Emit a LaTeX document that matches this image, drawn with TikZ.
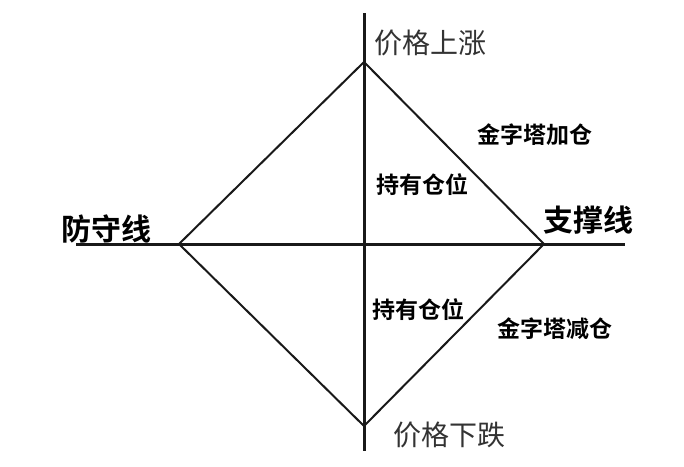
\documentclass[tikz,border=0pt]{standalone}
\usepackage{fontspec}
\newfontfamily\cjk[BoldFont={Noto Sans CJK SC Bold}]{Noto Sans CJK SC}
\begin{document}
\begin{tikzpicture}[x=1pt,y=-1pt,
  axis/.style={line width=3pt,black!90},
  edge/.style={line width=2pt,black!90},
  lab/.style={font=\cjk\fontsize{28}{28}\selectfont,text=black!80,inner sep=0pt},
  blab/.style={font=\cjk\bfseries\fontsize{30}{30}\selectfont,inner sep=0pt},
  slab/.style={font=\cjk\bfseries\fontsize{23}{23}\selectfont,inner sep=0pt}]
\useasboundingbox[fill=white] (0,0) rectangle (684,466);
% axis ends
\coordinate (vt) at (364,13);
\coordinate (vb) at (364,451);
\coordinate (hl) at (76,244);
\coordinate (hr) at (625,244);
% diamond vertices
\coordinate (T) at (364,62);
\coordinate (L) at (179,244);
\coordinate (R) at (544,244);
\coordinate (B) at (364,426);
\draw[axis] (vt) -- (vb);
\draw[axis] (hl) -- (hr);
\draw[edge,line join=miter] (T) -- (R) -- (B) -- (L) -- cycle;
% labels
\node[lab,anchor=west] (up) at (374,43) {价格上涨};
\node[lab,anchor=west] (down) at (393,435) {价格下跌};
\node[blab,anchor=west] (def) at (61,229) {防守线};
\node[blab,anchor=west] (sup) at (543,220) {支撑线};
\node[slab,anchor=west] (add) at (477,135) {金字塔加仓};
\node[slab,anchor=west] (hold1) at (376,185) {持有仓位};
\node[slab,anchor=west] (hold2) at (372,310) {持有仓位};
\node[slab,anchor=west] (sub) at (497,329) {金字塔减仓};
\end{tikzpicture}
\end{document}
